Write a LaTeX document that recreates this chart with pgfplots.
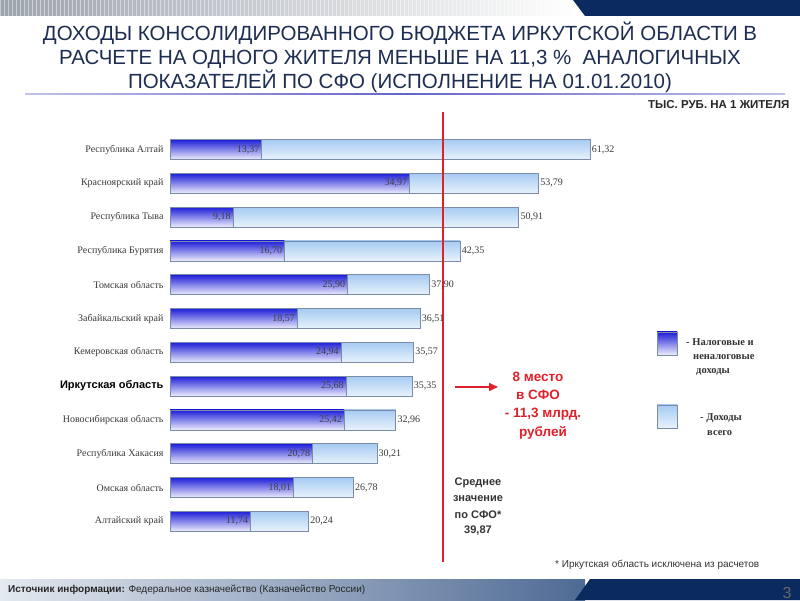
\documentclass[border=0pt]{standalone}
\usepackage{fontspec}
\setmainfont{Liberation Sans}
\newfontfamily\lserif{Liberation Serif}
\usepackage{pgfplots}
\pgfplotsset{compat=1.18}
\usetikzlibrary{arrows.meta}
\definecolor{Navy}{HTML}{0B2A5E}
\definecolor{TitleInk}{HTML}{1E2D52}
\definecolor{RuleBlue}{HTML}{6464C8}
\definecolor{DarkTop}{HTML}{1E1ED8}
\definecolor{DarkMid}{HTML}{A4A4F2}
\definecolor{DarkBot}{HTML}{EEEEFC}
\definecolor{LightTop}{HTML}{A6CBF2}
\definecolor{LightBot}{HTML}{E8F2FC}
\definecolor{BarEdge}{HTML}{7A8CA8}
\definecolor{LabelInk}{HTML}{3A3A3A}
\definecolor{AvgRed}{HTML}{E0202A}
\definecolor{FootStart}{HTML}{E4E9F0}
\definecolor{FootEnd}{HTML}{4E6A94}

\pgfplotsset{
  valnum/.style={nodes near coords={\pgfmathprintnumber[fixed,fixed zerofill,precision=2,use comma,assume math mode=true]{\pgfplotspointmeta}}},
  totalbar/.style={xbar, bar width=20pt, bar shift=0pt, draw=BarEdge, line width=0.6pt,
    top color=LightTop, bottom color=LightBot, valnum,
    every node near coord/.append style={font=\lserif\fontsize{10}{12}\selectfont, text=LabelInk, anchor=west, inner sep=1.5pt}},
  taxbar/.style={xbar, bar width=20pt, bar shift=0pt, draw=BarEdge, line width=0.6pt,
    top color=DarkTop, middle color=DarkMid, bottom color=DarkBot, valnum,
    every node near coord/.append style={font=\lserif\fontsize{10}{12}\selectfont, text=black!75, anchor=east, inner sep=2pt}},
}

\begin{document}
\begin{tikzpicture}[x=1pt,y=1pt]
\useasboundingbox (0,0) rectangle (800,600);
\fill[white] (0,0) rectangle (800,600);

% header band
\shade[left color=gray!70!Navy!60, right color=white] (0,584) rectangle (575,600);
\foreach \i in {0,4,...,570} \draw[white,opacity=0.45,line width=1pt] (\i,584) -- (\i,600);
\fill[Navy] (573,600) -- (800,600) -- (800,584) -- (585,584) -- cycle;

% title
\node[font=\fontsize{20.5}{24}\selectfont, text=TitleInk, align=center] at (400,543)
  {ДОХОДЫ КОНСОЛИДИРОВАННОГО БЮДЖЕТА ИРКУТСКОЙ ОБЛАСТИ В\\
   РАСЧЕТЕ НА ОДНОГО ЖИТЕЛЯ МЕНЬШЕ НА 11,3 \%\ \ АНАЛОГИЧНЫХ\\
   ПОКАЗАТЕЛЕЙ ПО СФО (ИСПОЛНЕНИЕ НА 01.01.2010)};
\shade[left color=RuleBlue!40, right color=RuleBlue!40, middle color=RuleBlue] (25,505.6) rectangle (785,506.8);
\node[anchor=east, font=\fontsize{11.5}{13}\selectfont\bfseries, text=black!85] at (793,495)
  {ТЫС. РУБ. НА 1 ЖИТЕЛЯ};

\begin{axis}[
  at={(170pt,61.8pt)}, anchor=south west,
  scale only axis,
  width=479.5pt, height=405.6pt,
  xmin=0, xmax=70,
  ymin=0.5, ymax=12.5,
  y dir=reverse,
  axis line style={draw=none},
  xtick=\empty,
  ytick={1,2,3,4,5,6,7,8,9,10,11,12},
  yticklabels={Республика Алтай, Красноярский край, Республика Тыва, Республика Бурятия,
    Томская область, Забайкальский край, Кемеровская область,
    {\normalfont\fontsize{11}{12}\selectfont\bfseries\color{black} Иркутская область},
    Новосибирская область, Республика Хакасия, Омская область, Алтайский край},
  yticklabel style={font=\lserif\fontsize{10}{12}\selectfont, text=LabelInk, xshift=-3pt},
  major tick length=0pt,
  clip=false,
  point meta=x,
]
% total income per resident (one plot per bar so each bar gets its own shading)
\addplot[totalbar] coordinates {(61.32,1)};
\addplot[totalbar] coordinates {(53.79,2)};
\addplot[totalbar] coordinates {(50.91,3)};
\addplot[totalbar] coordinates {(42.35,4)};
\addplot[totalbar] coordinates {(37.90,5)};
\addplot[totalbar] coordinates {(36.51,6)};
\addplot[totalbar] coordinates {(35.57,7)};
\addplot[totalbar] coordinates {(35.35,8)};
\addplot[totalbar] coordinates {(32.96,9)};
\addplot[totalbar] coordinates {(30.21,10)};
\addplot[totalbar] coordinates {(26.78,11)};
\addplot[totalbar] coordinates {(20.24,12)};
% tax and non-tax income per resident
\addplot[taxbar] coordinates {(13.37,1)};
\addplot[taxbar] coordinates {(34.97,2)};
\addplot[taxbar] coordinates {(9.18,3)};
\addplot[taxbar] coordinates {(16.70,4)};
\addplot[taxbar] coordinates {(25.90,5)};
\addplot[taxbar] coordinates {(18.57,6)};
\addplot[taxbar] coordinates {(24.94,7)};
\addplot[taxbar] coordinates {(25.68,8)};
\addplot[taxbar] coordinates {(25.42,9)};
\addplot[taxbar] coordinates {(20.78,10)};
\addplot[taxbar] coordinates {(18.01,11)};
\addplot[taxbar] coordinates {(11.74,12)};
% SFO average
\addplot[AvgRed, line width=1.3pt] coordinates {(39.87,-0.11) (39.87,13.2)};
\end{axis}

% arrow and red notes
\draw[AvgRed, line width=1.6pt, -{Triangle[length=9pt,width=8pt]}] (455,213) -- (498,213);
\begin{scope}[every node/.style={font=\fontsize{13.5}{15}\selectfont\bfseries, text=AvgRed}]
\node at (538,223) {8 место};
\node at (538,205) {в СФО};
\node at (543,186) {- 11,3 млрд.};
\node at (543,167) {рублей};
\end{scope}

% average note
\begin{scope}[every node/.style={font=\fontsize{11}{13}\selectfont\bfseries, text=black!80}]
\node at (478,117) {Среднее};
\node at (478,101) {значение};
\node at (478,85) {по СФО*};
\node at (478,69) {39,87};
\end{scope}

% legend
\shade[top color=DarkTop, middle color=DarkMid, bottom color=DarkBot, draw=BarEdge] (657,245) rectangle (677,268);
\shade[top color=LightTop, bottom color=LightBot, draw=BarEdge] (657,172) rectangle (677,195);
\begin{scope}[every node/.style={font=\lserif\fontsize{10.5}{12}\selectfont\bfseries, text=black!80, anchor=west, inner sep=0pt}]
\node at (686,258) {- Налоговые и};
\node at (693,243) {неналоговые};
\node at (696,228) {доходы};
\node at (700,182) {- Доходы};
\node at (707,167) {всего};
\end{scope}

% footnote
\node[anchor=west, font=\fontsize{10}{12}\selectfont, text=black!80, inner sep=0pt] at (555,35)
  {* Иркутская область исключена из расчетов};

% footer band
\shade[left color=FootStart, right color=FootEnd] (0,0) rectangle (585,21);
\fill[Navy] (590,21) -- (800,21) -- (800,0) -- (575,0) -- cycle;
\node[anchor=west, font=\fontsize{10}{12}\selectfont, text=black!85, inner sep=0pt] at (8,10)
  {\textbf{Источник информации:} Федеральное казначейство (Казначейство России)};
\node[anchor=base, font=\fontsize{16}{18}\selectfont, text=black!60, inner sep=0pt] at (787,2) {3};
\end{tikzpicture}
\end{document}
